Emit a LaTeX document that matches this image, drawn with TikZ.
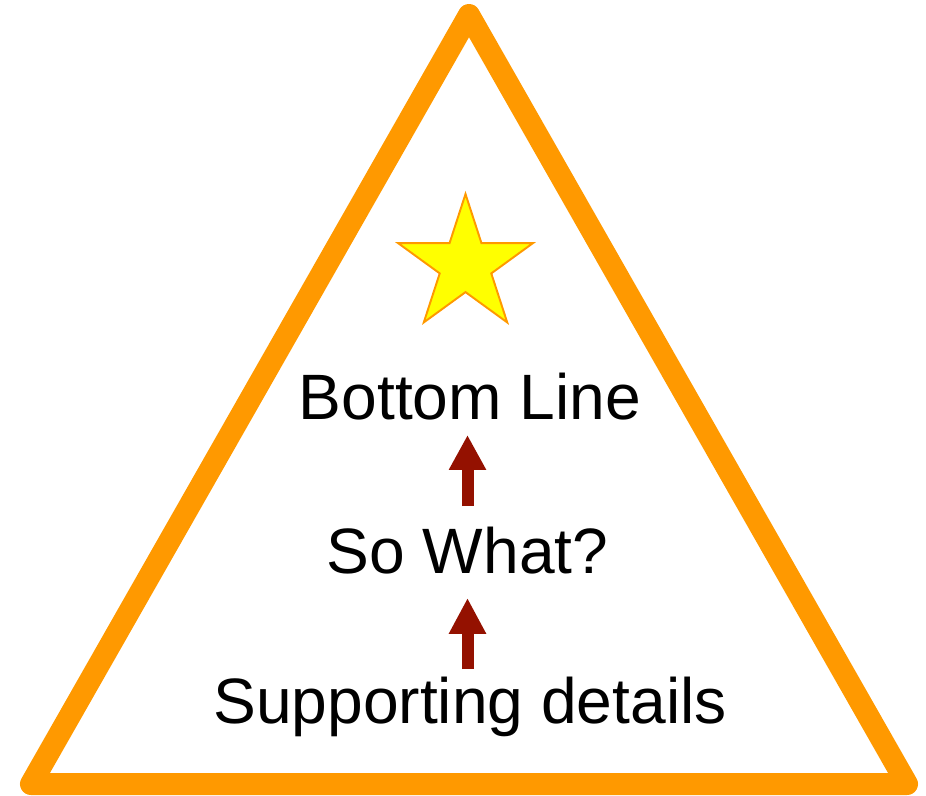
\documentclass[tikz,border=0pt]{standalone}
\usepackage{fontspec}
\setmainfont{Liberation Sans}
\usetikzlibrary{arrows.meta,shapes.geometric}
\definecolor{pyrorange}{HTML}{FF9900}
\definecolor{staryellow}{HTML}{FFFF00}
\definecolor{darkred}{HTML}{941100}

\begin{document}
\begin{tikzpicture}[x=0.02cm,y=-0.02cm,every node/.style={font=\fontsize{36.5}{42}\selectfont,inner sep=0pt,anchor=base}]
\useasboundingbox (0,0) rectangle (926,795);
\draw[pyrorange,line width=0.44cm,line join=round] (469,15) -- (31,784) -- (907,784) -- cycle;
\node[star,star points=5,star point ratio=2.618,minimum size=2.84cm,draw=pyrorange,fill=staryellow,line width=1.1pt,anchor=center] (star) at (465.5,265) {};
\node (bottom) at (470,419) {Bottom Line};
\node (sowhat) at (467.5,573) {So What?};
\node (details) at (470,723) {Supporting details};
\draw[darkred,line width=0.24cm,-{Triangle[width=0.7cm,length=0.7cm]},shorten <=0.4cm,shorten >=0.3cm] (sowhat.north) -- (sowhat.north |- bottom.south);
\draw[darkred,line width=0.24cm,-{Triangle[width=0.7cm,length=0.72cm]},shorten <=0.14cm,shorten >=0.48cm] (sowhat.south |- details.north) -- (sowhat.south);
\end{tikzpicture}
\end{document}
